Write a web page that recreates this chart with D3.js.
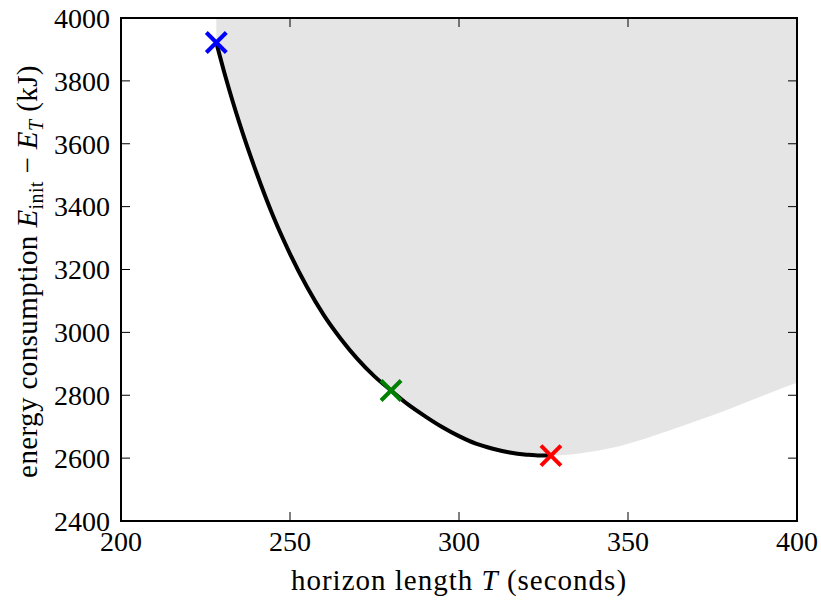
<!DOCTYPE html>
<html>
<head>
<meta charset="utf-8">
<script src="https://cdn.jsdelivr.net/npm/d3@7"></script>
<style>
  body { margin: 0; background: #fff; }
  text { font-family: "Liberation Serif", "DejaVu Serif", serif; fill: #000; }
</style>
</head>
<body>
<svg id="chart" width="821" height="600"></svg>
<script>
// optimal energy vs horizon length (black curve)
const curveT = [228.2, 231, 235, 240, 245, 250, 255, 260, 265, 270, 275, 279.9, 285, 290, 295, 300, 305, 310, 315, 320, 324, 327.2];
const curveE = [3922, 3810, 3667, 3510, 3370, 3250, 3145, 3055, 2980, 2915, 2860, 2815, 2770, 2733, 2699, 2670, 2646, 2630, 2618, 2611, 2608, 2608];

// lower edge of the feasible (grey) region to the right of the minimum
const edgeT = [335, 345, 355, 365, 375, 385, 395, 400];
const edgeE = [2614, 2632, 2662, 2698, 2736, 2778, 2820, 2840];

// marked points
const markT = [228.2, 279.9, 327.2];
const markE = [3922, 2815, 2608];
const markColor = ["#0000ff", "#008000", "#ff0000"];

const xTicks = [200, 250, 300, 350, 400];
const yTicks = [2400, 2600, 2800, 3000, 3200, 3400, 3600, 3800, 4000];

const margin = {top: 18, right: 24, bottom: 79, left: 121},
    width = 821 - margin.left - margin.right,
    height = 600 - margin.top - margin.bottom;

const svg = d3.select("#chart");
const g = svg.append("g")
    .attr("transform", `translate(${margin.left},${margin.top})`);

const x = d3.scaleLinear().domain([200, 400]).range([0, width]);
const y = d3.scaleLinear().domain([2400, 4000]).range([height, 0]);

svg.append("clipPath").attr("id", "clip")
    .append("rect").attr("width", width).attr("height", height);

const plot = g.append("g").attr("clip-path", "url(#clip)");

const smooth = d3.line().x(d => x(d[0])).y(d => y(d[1])).curve(d3.curveMonotoneX);
const curvePts = curveT.map((t, i) => [t, curveE[i]]);
const edgePts = edgeT.map((t, i) => [t, edgeE[i]]);

// grey region: vertical edge above the first point, then curve, then lower edge
const boundary = smooth(curvePts.concat(edgePts));
plot.append("path")
    .attr("fill", "#e5e5e5")
    .attr("stroke", "none")
    .attr("d", `M${x(curveT[0])},${y(4000)}L${x(curveT[0])},${y(curveE[0])}` +
        boundary.replace(/^M/, "L") +
        `L${x(400)},${y(4000)}Z`);

// curve
plot.append("path")
    .datum(curvePts)
    .attr("fill", "none")
    .attr("stroke", "#000")
    .attr("stroke-width", 4)
    .attr("d", smooth);

// x markers
const s = 10;
markT.forEach((t, i) => {
    const cx = x(t), cy = y(markE[i]);
    g.append("path")
        .attr("d", `M${cx - s},${cy - s}L${cx + s},${cy + s}M${cx - s},${cy + s}L${cx + s},${cy - s}`)
        .attr("stroke", markColor[i])
        .attr("stroke-width", 4)
        .attr("fill", "none");
});

// ticks on all four sides, pointing inward
const tl = 9;
xTicks.forEach(t => {
    g.append("line").attr("x1", x(t)).attr("x2", x(t)).attr("y1", height).attr("y2", height - tl)
        .attr("stroke", "#000").attr("stroke-width", 1);
    g.append("line").attr("x1", x(t)).attr("x2", x(t)).attr("y1", 0).attr("y2", tl)
        .attr("stroke", "#000").attr("stroke-width", 1);
    g.append("text")
        .attr("x", x(t)).attr("y", height + 30)
        .attr("text-anchor", "middle")
        .attr("font-size", 28)
        .text(t);
});
yTicks.forEach(t => {
    g.append("line").attr("x1", 0).attr("x2", tl).attr("y1", y(t)).attr("y2", y(t))
        .attr("stroke", "#000").attr("stroke-width", 1);
    g.append("line").attr("x1", width).attr("x2", width - tl).attr("y1", y(t)).attr("y2", y(t))
        .attr("stroke", "#000").attr("stroke-width", 1);
    g.append("text")
        .attr("x", -11).attr("y", y(t))
        .attr("dy", "0.35em")
        .attr("text-anchor", "end")
        .attr("font-size", 28)
        .text(t);
});

// frame
g.append("rect")
    .attr("width", width).attr("height", height)
    .attr("fill", "none").attr("stroke", "#000").attr("stroke-width", 2);

// axis labels
const xl = g.append("text")
    .attr("x", width / 2).attr("y", height + 69)
    .attr("text-anchor", "middle")
    .attr("font-size", 29)
    .attr("letter-spacing", 1);
xl.append("tspan").text("horizon length ");
xl.append("tspan").attr("font-style", "italic").text("T");
xl.append("tspan").text(" (seconds)");

const yl = g.append("text")
    .attr("transform", `translate(${-84},${height / 2 + 2}) rotate(-90)`)
    .attr("text-anchor", "middle")
    .attr("font-size", 29)
    .attr("letter-spacing", 0.4);
yl.append("tspan").text("energy consumption ");
yl.append("tspan").attr("font-style", "italic").text("E");
yl.append("tspan").attr("font-size", 20).attr("dy", 6).text("init");
yl.append("tspan").attr("dy", -6).text(" − ");
yl.append("tspan").attr("font-style", "italic").text("E");
yl.append("tspan").attr("font-size", 20).attr("font-style", "italic").attr("dy", 6).text("T");
yl.append("tspan").attr("dy", -6).text(" (kJ)");
</script>
</body>
</html>
